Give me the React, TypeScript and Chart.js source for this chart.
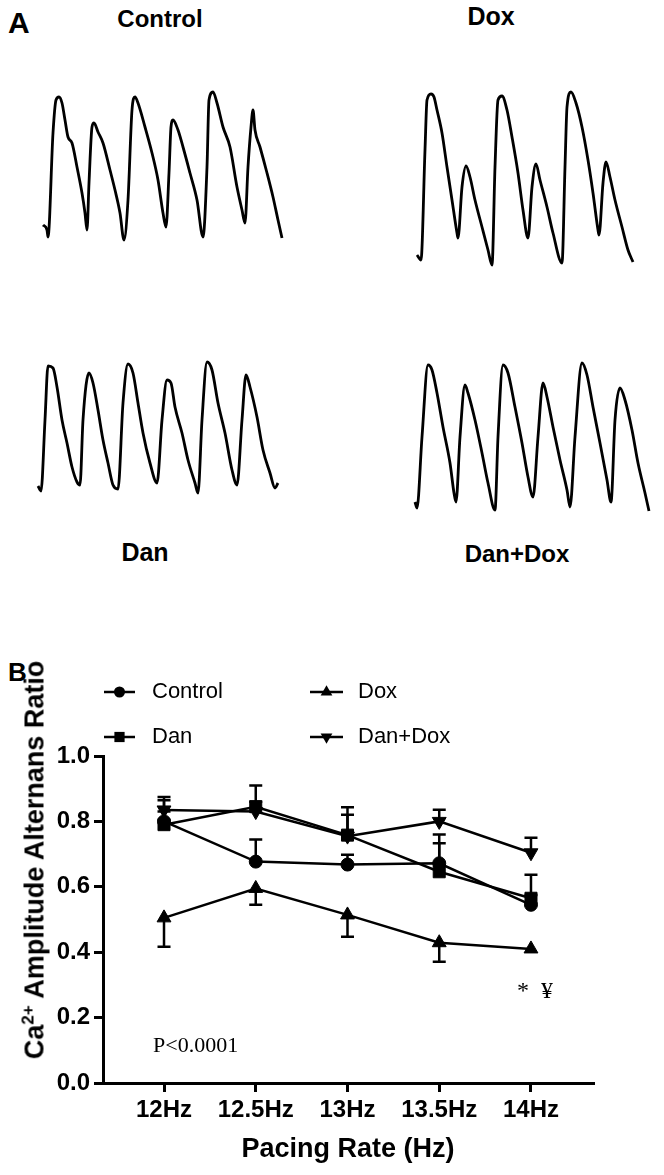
import React, { useEffect, useRef } from 'react';
import { Chart, registerables } from 'chart.js';

Chart.register(...registerables);

// ---------- Panel A: Ca2+ transient traces (time a.u., fluorescence a.u.) ----------
const controlTime = [0, 4, 5, 10, 13, 16, 19, 22, 25, 29, 34, 39, 42, 44, 46, 49, 51, 55, 60, 67, 72, 77, 81, 85, 89, 92, 95, 102, 109, 115, 120, 123, 126, 128, 130, 135, 140, 147, 154, 160, 164, 166, 170, 174, 180, 187, 194, 199, 202, 205, 208, 210, 212, 217, 224, 230, 235, 239];
const controlSignal = [15, 10, 3, 107, 140, 143, 137, 120, 103, 97, 73, 47, 27, 10, 57, 113, 117, 108, 97, 70, 50, 27, 0, 40, 130, 143, 137, 113, 87, 60, 27, 13, 67, 113, 120, 110, 93, 67, 40, 3, 73, 140, 148, 137, 113, 93, 53, 30, 17, 73, 113, 130, 110, 93, 67, 43, 20, 2];

const doxTime = [0, 4, 8, 10, 14, 17, 20, 25, 30, 35, 40, 41, 45, 49, 53, 58, 65, 71, 75, 78, 81, 85, 90, 95, 101, 106, 111, 115, 119, 123, 130, 136, 145, 148, 150, 154, 159, 165, 171, 176, 181, 182, 186, 189, 193, 198, 205, 211, 216];
const doxSignal = [10, 5, 115, 165, 171, 168, 155, 132, 98, 65, 32, 27, 78, 99, 88, 65, 38, 15, 0, 98, 165, 169, 155, 128, 92, 55, 27, 78, 101, 85, 58, 32, 2, 98, 158, 173, 162, 138, 105, 72, 35, 30, 82, 103, 88, 65, 38, 15, 3];

const danTime = [0, 3, 7, 10, 15, 19, 24, 29, 34, 39, 42, 45, 51, 55, 60, 65, 70, 75, 80, 85, 90, 95, 100, 105, 112, 119, 124, 129, 133, 137, 144, 150, 157, 160, 164, 169, 174, 180, 187, 194, 199, 204, 208, 212, 219, 225, 232, 237, 240];
const danSignal = [7, 2, 73, 127, 125, 106, 73, 50, 26, 11, 8, 73, 120, 110, 83, 53, 30, 8, 4, 90, 129, 120, 90, 60, 30, 10, 73, 113, 110, 86, 60, 33, 10, 0, 73, 131, 123, 90, 60, 23, 8, 73, 118, 106, 76, 43, 20, 5, 10];

const danDoxTime = [0, 2, 7, 13, 17, 22, 28, 35, 39, 41, 45, 50, 53, 60, 67, 73, 80, 83, 88, 93, 100, 107, 113, 118, 123, 128, 132, 138, 145, 152, 155, 160, 167, 172, 178, 185, 192, 196, 200, 205, 210, 217, 223, 230, 234];
const danDoxSignal = [9, 3, 74, 146, 141, 118, 84, 48, 18, 9, 74, 126, 118, 91, 58, 28, 1, 74, 146, 138, 104, 68, 34, 14, 74, 128, 114, 84, 51, 21, 4, 74, 148, 136, 104, 68, 31, 9, 91, 123, 111, 81, 48, 18, 0];

// ---------- Panel B: alternans ratio ----------
const pacingRates = ['12Hz', '12.5Hz', '13Hz', '13.5Hz', '14Hz'];
const yTickValues = [0, 0.2, 0.4, 0.6, 0.8, 1.0];

const controlMean = [0.80, 0.677, 0.668, 0.672, 0.545];
const controlSem = [0.03, 0.068, 0.03, 0.061, 0.03];
const danMean = [0.79, 0.845, 0.758, 0.646, 0.565];
const danSem = [0.075, 0.065, 0.085, 0.114, 0.072];
const doxMean = [0.505, 0.595, 0.514, 0.429, 0.41];
const doxSem = [0.088, 0.05, 0.067, 0.058, 0.0];
const danDoxMean = [0.835, 0.83, 0.755, 0.80, 0.704];
const danDoxSem = [0.04, 0.03, 0.065, 0.036, 0.046];

type Series = { label: string; mean: number[]; sem: number[]; dir: number; marker: string; radius: number };
const seriesList: Series[] = [
  { label: 'Control', mean: controlMean, sem: controlSem, dir: 1, marker: 'circle', radius: 6.5 },
  { label: 'Dan', mean: danMean, sem: danSem, dir: 1, marker: 'rect', radius: 8.5 },
  { label: 'Dox', mean: doxMean, sem: doxSem, dir: -1, marker: 'triangle', radius: 8 },
  { label: 'Dan+Dox', mean: danDoxMean, sem: danDoxSem, dir: 1, marker: 'triangleDown', radius: 8 },
];

const SANS = 'Liberation Sans, Arial, sans-serif';
const SERIF = 'Liberation Serif, Times New Roman, serif';

function drawMarker(ctx: CanvasRenderingContext2D, style: string, x: number, y: number, r: number) {
  ctx.beginPath();
  if (style === 'circle') {
    ctx.arc(x, y, r, 0, Math.PI * 2);
  } else if (style === 'rect') {
    const h = r * Math.SQRT1_2;
    ctx.rect(x - h, y - h, 2 * h, 2 * h);
  } else {
    const s = style === 'triangle' ? 1 : -1;
    const dx = r * Math.sin((2 * Math.PI) / 3);
    ctx.moveTo(x, y - s * r);
    ctx.lineTo(x + dx, y + s * r * 0.5);
    ctx.lineTo(x - dx, y + s * r * 0.5);
    ctx.closePath();
  }
  ctx.fill();
}

type TraceProps = {
  time: number[]; signal: number[];
  left: number; top: number; width: number; height: number;
  xMin: number; xMax: number; yMin: number; yMax: number;
};

function TraceChart(p: TraceProps) {
  const ref = useRef<HTMLCanvasElement>(null);
  useEffect(() => {
    if (!ref.current) return;
    const chart = new Chart(ref.current, {
      type: 'line',
      data: {
        datasets: [{
          data: p.time.map((t, i) => ({ x: t, y: p.signal[i] })),
          borderColor: '#000',
          borderWidth: 2.8,
          pointRadius: 0,
          cubicInterpolationMode: 'monotone',
          fill: false,
        }],
      },
      options: {
        animation: false,
        responsive: false,
        maintainAspectRatio: false,
        events: [],
        layout: { padding: 0 },
        plugins: { legend: { display: false }, tooltip: { enabled: false } },
        scales: {
          x: { type: 'linear', display: false, min: p.xMin, max: p.xMax },
          y: { type: 'linear', display: false, min: p.yMin, max: p.yMax },
        },
      },
    } as any);
    return () => chart.destroy();
  }, []);
  return (
    <canvas ref={ref} width={p.width} height={p.height}
      style={{ position: 'absolute', left: p.left, top: p.top, width: p.width, height: p.height }} />
  );
}

const errorBarPlugin = {
  id: 'errorBars',
  afterDatasetsDraw(chart: any) {
    const { ctx } = chart;
    const x = chart.scales.x;
    const y = chart.scales.y;
    ctx.save();
    ctx.strokeStyle = '#000';
    ctx.lineWidth = 2.5;
    seriesList.forEach((s) => {
      s.mean.forEach((m, i) => {
        const e = s.sem[i];
        if (!e) return;
        const px = x.getPixelForValue(i);
        const y0 = y.getPixelForValue(m);
        const y1 = y.getPixelForValue(m + s.dir * e);
        ctx.beginPath();
        ctx.moveTo(px, y0);
        ctx.lineTo(px, y1);
        ctx.moveTo(px - 6.5, y1);
        ctx.lineTo(px + 6.5, y1);
        ctx.stroke();
      });
    });
    ctx.restore();
  },
};

const legendPlugin = {
  id: 'legendB',
  afterDraw(chart: any) {
    const { ctx } = chart;
    const cols = [{ x0: 104, x1: 135, tx: 152 }, { x0: 310, x1: 343, tx: 358 }];
    const rows = [52, 97];
    const placement = [[0, 0], [0, 1], [1, 0], [1, 1]];
    ctx.save();
    ctx.fillStyle = '#000';
    ctx.strokeStyle = '#000';
    ctx.lineWidth = 2.5;
    ctx.font = `22px ${SANS}`;
    ctx.textBaseline = 'middle';
    ctx.textAlign = 'left';
    seriesList.forEach((s, k) => {
      const c = cols[placement[k][0]];
      const yy = rows[placement[k][1]];
      ctx.beginPath();
      ctx.moveTo(c.x0, yy);
      ctx.lineTo(c.x1, yy);
      ctx.stroke();
      drawMarker(ctx, s.marker, (c.x0 + c.x1) / 2, yy, s.radius * 0.85);
      ctx.fillText(s.label, c.tx, yy);
    });
    ctx.restore();
  },
};

function AlternansChart() {
  const ref = useRef<HTMLCanvasElement>(null);
  useEffect(() => {
    if (!ref.current) return;
    const tickFont = { family: SANS, size: 24, weight: 'bold' as const };
    const chart = new Chart(ref.current, {
      type: 'line',
      data: {
        datasets: seriesList.map((s) => ({
          label: s.label,
          data: s.mean.map((v, i) => ({ x: i, y: v })),
          borderColor: '#000',
          backgroundColor: '#000',
          borderWidth: 2.5,
          pointStyle: s.marker === 'triangleDown' ? 'triangle' : s.marker,
          rotation: s.marker === 'triangleDown' ? 180 : 0,
          pointRadius: s.radius,
          pointBorderWidth: 1,
          pointBackgroundColor: '#000',
          pointBorderColor: '#000',
          tension: 0,
        })),
      },
      options: {
        animation: false,
        responsive: false,
        maintainAspectRatio: false,
        events: [],
        layout: { padding: { left: 0, right: 71, top: 116, bottom: 9 } },
        plugins: { legend: { display: false }, tooltip: { enabled: false } },
        scales: {
          x: {
            type: 'linear',
            min: -0.665,
            max: 4.676,
            afterBuildTicks: (s: any) => { s.ticks = pacingRates.map((_, i) => ({ value: i })); },
            afterFit: (s: any) => { s.height = 83; },
            ticks: {
              callback: (v: any) => pacingRates[Math.round(v)] ?? '',
              font: tickFont, color: '#000', padding: 4, maxRotation: 0, autoSkip: false,
            },
            grid: { display: true, drawOnChartArea: false, drawTicks: true, tickLength: 9, lineWidth: 3, color: '#000' },
            border: { display: true, width: 3, color: '#000' },
            title: {
              display: true, text: 'Pacing Rate (Hz)', color: '#000', padding: 0,
              font: { family: SANS, size: 27, weight: 'bold' },
            },
          },
          y: {
            type: 'linear',
            min: 0,
            max: 1,
            afterBuildTicks: (s: any) => { s.ticks = yTickValues.map((v) => ({ value: v })); },
            afterFit: (s: any) => { s.width = 103; },
            ticks: {
              callback: (v: any) => Number(v).toFixed(1),
              font: tickFont, color: '#000', padding: 4,
            },
            grid: { display: true, drawOnChartArea: false, drawTicks: true, tickLength: 9, lineWidth: 3, color: '#000' },
            border: { display: true, width: 3, color: '#000' },
          },
        },
      },
      plugins: [errorBarPlugin, legendPlugin],
    } as any);
    return () => chart.destroy();
  }, []);
  return (
    <canvas ref={ref} width={664} height={535}
      style={{ position: 'absolute', left: 0, top: 640, width: 664, height: 535 }} />
  );
}

function Txt(props: { children: React.ReactNode; left: number; top: number; size: number; bold?: boolean; serif?: boolean; center?: boolean }) {
  return (
    <div style={{
      position: 'absolute', left: props.left, top: props.top,
      transform: props.center ? 'translateX(-50%)' : undefined,
      fontFamily: props.serif ? SERIF : SANS, fontSize: props.size, lineHeight: 1,
      fontWeight: props.bold ? 'bold' : 'normal', color: '#000', whiteSpace: 'nowrap',
    }}>{props.children}</div>
  );
}

export default function App() {
  return (
    <div style={{ position: 'absolute', left: 0, top: 0, width: 664, height: 1175, background: '#fff', overflow: 'hidden' }}>
      <Txt left={8} top={8} size={30} bold>A</Txt>
      <Txt left={160} top={7} size={24} bold center>Control</Txt>
      <Txt left={491} top={4} size={25} bold center>Dox</Txt>
      <Txt left={145} top={540} size={25} bold center>Dan</Txt>
      <Txt left={517} top={542} size={24} bold center>Dan+Dox</Txt>

      <TraceChart time={controlTime} signal={controlSignal} left={33} top={80} width={260} height={170} xMin={-10} xMax={250} yMin={-10} yMax={160} />
      <TraceChart time={doxTime} signal={doxSignal} left={407} top={80} width={240} height={195} xMin={-10} xMax={230} yMin={-10} yMax={185} />
      <TraceChart time={danTime} signal={danSignal} left={28} top={350} width={260} height={155} xMin={-10} xMax={250} yMin={-12} yMax={143} />
      <TraceChart time={danDoxTime} signal={danDoxSignal} left={405} top={350} width={255} height={170} xMin={-10} xMax={245} yMin={-9} yMax={161} />

      <Txt left={8} top={659} size={26} bold>B</Txt>
      <AlternansChart />

      <div style={{
        position: 'absolute', left: 35, top: 860, transform: 'translate(-50%, -50%) rotate(-90deg)',
        fontFamily: SANS, fontSize: 27, fontWeight: 'bold', lineHeight: 1, whiteSpace: 'nowrap', color: '#000',
      }}>
        Ca<sup style={{ fontSize: 17, lineHeight: 0 }}>2+</sup> Amplitude Alternans Ratio
      </div>

      <Txt left={153} top={1034} size={22} serif>P&lt;0.0001</Txt>
      <Txt left={517} top={978} size={24} serif>*</Txt>
      <Txt left={541} top={978} size={24} serif>¥</Txt>
    </div>
  );
}
